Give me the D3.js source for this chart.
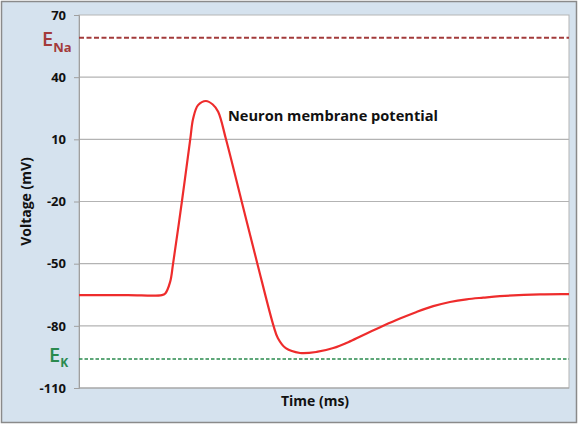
<!DOCTYPE html>
<html>
<head>
<meta charset="utf-8">
<script src="https://cdn.jsdelivr.net/npm/d3@7"></script>
<style>
  body { margin: 0; background: #fff; }
  svg text { font-family: "Open Sans", "Liberation Sans", sans-serif; }
</style>
</head>
<body>
<div class="body"></div>
<script>
// values
const yTicks = [70, 40, 10, -20, -50, -80, -110];
const timeMs = [0, 10, 16.9, 17.6, 18.6, 19.2, 21.0, 22.7, 23.3, 24.3, 25.9, 27.3, 28.4, 30.0, 33.2, 36.4, 39.7, 40.6, 42.2, 45.1, 48.5, 51.9, 55.3, 58.7, 62.1, 65.5, 68.9, 72.3, 75.7, 79.1, 82.5, 85.9, 94.1, 100];
const voltage = [-65.2, -65.2, -65.2, -64.4, -58.8, -50, -20, 10, 20.1, 26.5, 28.5, 26.8, 23.3, 10, -20, -50, -80, -86, -90.8, -93.1, -92.6, -90.7, -87.5, -83.7, -80, -76.5, -73.3, -70.5, -68.5, -67.2, -66.4, -65.7, -64.8, -64.7];
const eNa = 59;
const eK = -96;

const W = 581, H = 426;
const plot = { left: 79, right: 569, top: 15, bottom: 388 };

const svg = d3.select(".body").append("svg").attr("width", W).attr("height", H);

// outer frame
svg.append("rect")
  .attr("x", 1.5).attr("y", 1.5)
  .attr("width", 575).attr("height", 421)
  .attr("fill", "#d5e2ee")
  .attr("stroke", "#8a8a8a")
  .attr("stroke-width", 1.5);

svg.append("rect")
  .attr("x", plot.left).attr("y", plot.top)
  .attr("width", plot.right - plot.left).attr("height", plot.bottom - plot.top)
  .attr("fill", "#fff")
  .attr("stroke", "#b5b5b5");

const x = d3.scaleLinear().domain([0, 100]).range([plot.left, plot.right]);
const y = d3.scaleLinear().domain([-110, 70]).range([plot.bottom, plot.top]);

// gridlines
svg.append("g")
  .selectAll("line")
  .data(yTicks.slice(1, -1))
  .join("line")
  .attr("x1", plot.left).attr("x2", plot.right)
  .attr("y1", d => y(d)).attr("y2", d => y(d))
  .attr("stroke", "#b3b3b3")
  .attr("stroke-width", 1.2);

// y axis
const yAxis = svg.append("g")
  .attr("transform", `translate(${plot.left},0)`)
  .call(d3.axisLeft(y).tickValues(yTicks).tickSize(5).tickPadding(8).tickFormat(d => String(d)));
yAxis.select(".domain").attr("stroke", "#a0a0a0");
yAxis.selectAll(".tick line").attr("stroke", "#a0a0a0");
yAxis.selectAll(".tick text")
  .attr("font-size", 13)
  .attr("font-weight", "bold")
  .attr("fill", "#111");

// bottom line
svg.append("line")
  .attr("x1", plot.left).attr("x2", plot.right)
  .attr("y1", plot.bottom).attr("y2", plot.bottom)
  .attr("stroke", "#a0a0a0");

// reversal potentials
svg.append("line")
  .attr("x1", plot.left).attr("x2", plot.right)
  .attr("y1", y(eNa)).attr("y2", y(eNa))
  .attr("stroke", "#a33b3b")
  .attr("stroke-width", 2)
  .attr("stroke-dasharray", "5,2.5");

svg.append("line")
  .attr("x1", plot.left).attr("x2", plot.right)
  .attr("y1", y(eK)).attr("y2", y(eK))
  .attr("stroke", "#2a8a4e")
  .attr("stroke-width", 1.3)
  .attr("stroke-dasharray", "3.5,2");

const naLabel = svg.append("text")
  .attr("x", 42).attr("y", y(eNa) + 8)
  .attr("fill", "#a33b3b")
  .attr("font-weight", 600);
naLabel.append("tspan").attr("font-size", 20).text("E");
naLabel.append("tspan").attr("font-size", 13).attr("font-weight", "bold").attr("dy", 6).text("Na");

const kLabel = svg.append("text")
  .attr("x", 49).attr("y", y(eK) + 3)
  .attr("fill", "#2a8a4e")
  .attr("font-weight", 600);
kLabel.append("tspan").attr("font-size", 20).text("E");
kLabel.append("tspan").attr("font-size", 12).attr("font-weight", "bold").attr("dy", 5).text("K");

// membrane potential trace
const pts = timeMs.map((t, i) => [t, voltage[i]]);
const line = d3.line()
  .x(d => x(d[0]))
  .y(d => y(d[1]))
  .curve(d3.curveCatmullRom.alpha(0.5));

svg.append("path")
  .datum(pts)
  .attr("d", line)
  .attr("fill", "none")
  .attr("stroke", "#ee2c2c")
  .attr("stroke-width", 2.2);

svg.append("text")
  .attr("x", 228).attr("y", 121)
  .attr("font-size", 14.6)
  .attr("font-weight", "bold")
  .attr("fill", "#111")
  .text("Neuron membrane potential");

svg.append("text")
  .attr("transform", `translate(31,${(plot.top + plot.bottom) / 2}) rotate(-90)`)
  .attr("text-anchor", "middle")
  .attr("font-size", 14)
  .attr("font-weight", "bold")
  .attr("fill", "#111")
  .text("Voltage (mV)");

svg.append("text")
  .attr("x", 315).attr("y", 406)
  .attr("text-anchor", "middle")
  .attr("font-size", 14)
  .attr("font-weight", "bold")
  .attr("fill", "#111")
  .text("Time (ms)");
</script>
</body>
</html>
